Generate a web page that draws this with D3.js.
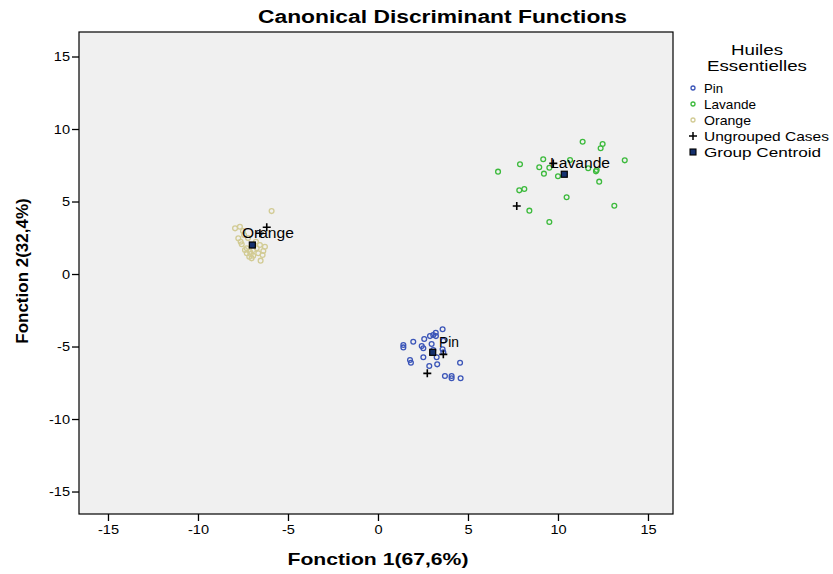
<!DOCTYPE html>
<html>
<head>
<meta charset="utf-8">
<script src="https://cdn.jsdelivr.net/npm/d3@7"></script>
<style>
  html, body { margin: 0; padding: 0; background: #ffffff; }
  svg { display: block; font-family: "Liberation Sans", Arial, sans-serif; }
</style>
</head>
<body>
<svg id="chart" width="833" height="574"></svg>
<script>
// Canonical discriminant scores per essential-oil group (Fonction 1, Fonction 2)
const groups = ["Pin", "Lavande", "Orange"];
const groupColors = ["#3b55b8", "#3cba3c", "#d2cb94"];

const pinF1 = [3.59, 3.21, 3.07, 2.89, 3.22, 2.57, 1.96, 3.63, 1.41, 1.41, 2.43, 2.52, 2.98, 3.07,
  3.59, 3.63, 1.78, 1.83, 2.52, 3.26, 2.85, 3.29, 4.56, 3.72, 4.09, 4.09, 4.59];
const pinF2 = [-3.81, -4.05, -4.21, -4.28, -4.28, -4.48, -4.67, -4.60, -4.90, -5.06, -4.97, -5.12, -4.83, -5.24,
  -5.19, -5.40, -5.93, -6.12, -5.74, -5.74, -6.34, -6.23, -6.12, -7.03, -7.03, -7.19, -7.19];

const lavandeF1 = [11.37, 12.48, 12.37, 9.18, 7.89, 10.67, 8.96, 9.52, 13.71, 11.68, 12.15, 12.11, 6.67,
  9.22, 10.00, 12.29, 7.85, 8.13, 10.48, 13.13, 8.41, 9.52];
const lavandeF2 = [9.12, 8.97, 8.67, 7.91, 7.57, 7.86, 7.36, 7.33, 7.84, 7.29, 7.17, 7.08, 7.06,
  6.92, 6.74, 6.37, 5.77, 5.86, 5.29, 4.71, 4.37, 3.59];

const orangeF1 = [-5.91, -7.94, -7.67, -7.76, -7.63, -7.57, -7.44, -7.29, -7.11, -6.93, -6.74, -6.56, -6.28,
  -7.29, -7.15, -6.93, -6.65, -6.41, -7.02, -6.52, -7.39, -6.78, -6.37, -7.07, -7.50, -7.22];
const orangeF2 = [4.34, 3.15, 3.26, 2.46, 2.23, 2.05, 2.69, 1.77, 1.54, 1.66, 1.77, 2.00, 1.88,
  1.43, 1.19, 1.26, 1.43, 1.31, 1.08, 0.92, 1.66, 2.23, 1.59, 1.38, 2.97, 2.48];

// Ungrouped cases
const ungroupedF1 = [3.63, 2.74, 7.71, 9.74, -6.18, -6.56];
const ungroupedF2 = [-5.54, -6.85, 4.69, 7.63, 3.22, 2.81];

// Group centroids (Pin, Lavande, Orange)
const centroidF1 = [3.04, 10.35, -6.98];
const centroidF2 = [-5.40, 6.88, 2.00];
// Centroid label anchors
const labelF1 = [3.39, 9.56, -7.56];
const labelF2 = [-5.00, 7.31, 2.48];

const axisTicks = [-15, -10, -5, 0, 5, 10, 15];
const legendTitle = ["Huiles", "Essentielles"];
const legendLabels = ["Pin", "Lavande", "Orange", "Ungrouped Cases", "Group Centroid"];

const seriesF1 = [pinF1, lavandeF1, orangeF1];
const seriesF2 = [pinF2, lavandeF2, orangeF2];

const svg = d3.select("#chart");
const plot = { left: 79, right: 673, top: 32, bottom: 514 };

const x = d3.scaleLinear().domain([-16.61, 16.39]).range([plot.left, plot.right]);
const y = d3.scaleLinear().domain([-16.55, 16.69]).range([plot.bottom, plot.top]);

// Text is drawn slightly stretched horizontally, as in SPSS output
function stretched(sel, width) {
  return sel.attr("textLength", width).attr("lengthAdjust", "spacingAndGlyphs");
}

// Plot frame
svg.append("rect")
  .attr("x", plot.left).attr("y", plot.top)
  .attr("width", plot.right - plot.left).attr("height", plot.bottom - plot.top)
  .attr("fill", "#f0f0f0").attr("stroke", "#000").attr("stroke-width", 1.2);

// Axes
const xAxis = svg.append("g")
  .attr("transform", `translate(0,${plot.bottom})`)
  .call(d3.axisBottom(x).tickValues(axisTicks).tickSize(7).tickPadding(4).tickSizeOuter(0));
const yAxis = svg.append("g")
  .attr("transform", `translate(${plot.left},0)`)
  .call(d3.axisLeft(y).tickValues(axisTicks).tickSize(7).tickPadding(2).tickSizeOuter(0));
[xAxis, yAxis].forEach(g => {
  g.select(".domain").remove();
  g.selectAll(".tick line").attr("stroke", "#000").attr("stroke-width", 1.3);
  g.selectAll(".tick text").attr("fill", "#000").style("font-size", "13px")
    .style("font-family", "'Liberation Sans', Arial, sans-serif")
    .text(d => d < 0 ? "-" + Math.abs(d) : d)
    .each(function (d) {
      const t = d3.select(this);
      stretched(t, this.getComputedTextLength() * 1.12);
    });
});

// Group points
const pointsLayer = svg.append("g");
groups.forEach((g, gi) => {
  const pts = seriesF1[gi].map((v, i) => [v, seriesF2[gi][i]]);
  pointsLayer.selectAll(null).data(pts).enter().append("circle")
    .attr("cx", d => x(d[0])).attr("cy", d => y(d[1]))
    .attr("r", 2.4)
    .attr("fill", "none")
    .attr("stroke", groupColors[gi])
    .attr("stroke-width", 1.3);
});

// Ungrouped cases
const plusSize = 4;
const ung = ungroupedF1.map((v, i) => [v, ungroupedF2[i]]);
svg.append("g").selectAll("path").data(ung).enter().append("path")
  .attr("d", d => {
    const cx = x(d[0]), cy = y(d[1]);
    return `M${cx - plusSize},${cy}H${cx + plusSize}M${cx},${cy - plusSize}V${cy + plusSize}`;
  })
  .attr("stroke", "#000").attr("stroke-width", 1.6);

// Centroids
const cent = centroidF1.map((v, i) => [v, centroidF2[i]]);
svg.append("g").selectAll("rect").data(cent).enter().append("rect")
  .attr("x", d => x(d[0]) - 3).attr("y", d => y(d[1]) - 3)
  .attr("width", 6).attr("height", 6)
  .attr("fill", "#14306e").attr("stroke", "#000").attr("stroke-width", 1.2);

// Centroid labels
const labelWidths = [20, 60, 52];
svg.append("g").selectAll("text").data(groups).enter().append("text")
  .attr("x", (d, i) => x(labelF1[i])).attr("y", (d, i) => y(labelF2[i]))
  .style("font-size", "14px")
  .attr("fill", "#000")
  .attr("textLength", (d, i) => labelWidths[i])
  .attr("lengthAdjust", "spacingAndGlyphs")
  .text(d => d);

// Title
stretched(svg.append("text")
  .attr("x", 442.5).attr("y", 23)
  .attr("text-anchor", "middle")
  .style("font-size", "18px").style("font-weight", "bold")
  .text("Canonical Discriminant Functions"), 369);

// Axis titles
stretched(svg.append("text")
  .attr("x", x(0)).attr("y", 565)
  .attr("text-anchor", "middle")
  .style("font-size", "17px").style("font-weight", "bold")
  .text("Fonction 1(67,6%)"), 181);
svg.append("text")
  .attr("transform", `translate(28,271) rotate(-90)`)
  .attr("text-anchor", "middle")
  .style("font-size", "17px").style("font-weight", "bold")
  .text("Fonction 2(32,4%)");

// Legend
const legend = svg.append("g");
const titleWidths = [52, 100];
legendTitle.forEach((t, i) => {
  stretched(legend.append("text").attr("x", 757).attr("y", 55 + i * 16).attr("text-anchor", "middle")
    .style("font-size", "15px").text(t), titleWidths[i]);
});

const itemWidths = [19, 52, 47, 125, 117];
const rowY = d3.scalePoint().domain(legendLabels).range([88, 152]);
legendLabels.forEach((lab, i) => {
  const cy = rowY(lab);
  if (i < 3) {
    legend.append("circle").attr("cx", 693).attr("cy", cy).attr("r", 2)
      .attr("fill", "none").attr("stroke", groupColors[i]).attr("stroke-width", 1.3);
  } else if (i === 3) {
    legend.append("path")
      .attr("d", `M${693 - plusSize},${cy}H${693 + plusSize}M693,${cy - plusSize}V${cy + plusSize}`)
      .attr("stroke", "#000").attr("stroke-width", 1.5);
  } else {
    legend.append("rect").attr("x", 690).attr("y", cy - 3).attr("width", 6).attr("height", 6)
      .attr("fill", "#14306e").attr("stroke", "#000").attr("stroke-width", 1.1);
  }
  stretched(legend.append("text").attr("x", 704).attr("y", cy + 4.5)
    .style("font-size", "13px").text(lab), itemWidths[i]);
});
</script>
</body>
</html>
